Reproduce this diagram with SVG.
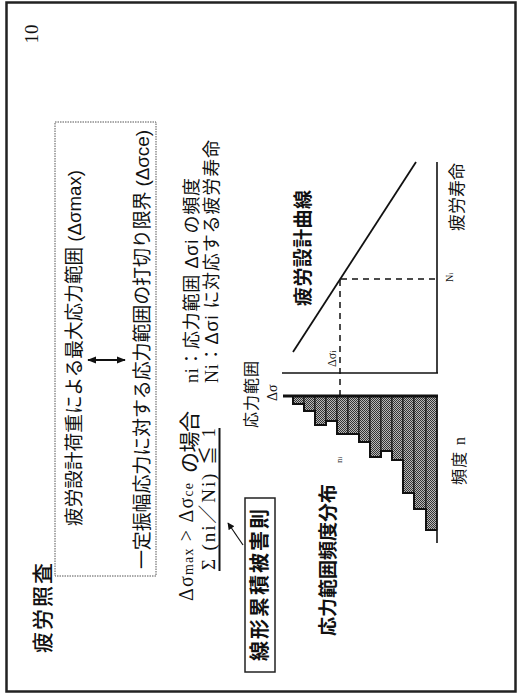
<svg xmlns="http://www.w3.org/2000/svg" width="518" height="695" viewBox="0 0 518 695">
<style>
.sans{font-family:"Liberation Sans","Noto Sans CJK JP",sans-serif;fill:#111}
.serif{font-family:"Liberation Serif","Noto Sans CJK JP",serif;fill:#111}
.bold{font-weight:bold}
.ln{stroke:#111;fill:none}
.dash{stroke:#111;stroke-width:1.5;stroke-dasharray:6 5;fill:none}
.bar{fill:url(#dots);stroke:#111;stroke-width:1}
</style>
<defs>
<pattern id="dots" patternUnits="userSpaceOnUse" width="2" height="2">
<rect width="2" height="2" fill="#b8b8b8"/>
<rect width="1" height="1" fill="#333"/>
<rect x="1" y="1" width="1" height="1" fill="#333"/>
</pattern>
<marker id="ah" viewBox="0 0 10 10" refX="9" refY="5" markerWidth="7" markerHeight="7" orient="auto-start-reverse" markerUnits="userSpaceOnUse">
<path d="M0,0 L10,5 L0,10 z" fill="#111"/>
</marker>
<marker id="ah2" viewBox="0 0 10 10" refX="9" refY="5" markerWidth="9" markerHeight="9" orient="auto-start-reverse" markerUnits="userSpaceOnUse">
<path d="M0,1 L10,5 L0,9 z" fill="#111"/>
</marker>
</defs>
<rect width="518" height="695" fill="#fff"/>
<g id="frame">
<rect x="6.5" y="2.5" width="509" height="689" fill="none" stroke="#222" stroke-width="2.5"/>
</g>
<g id="page-number"><text class="serif" font-size="19" text-anchor="middle" transform="rotate(-90 37.5 34)" x="37.5" y="34">10</text></g>
<g id="title"><text class="sans" font-size="21" font-weight="500" transform="rotate(-90 50 653)" x="50" y="653" textLength="90" lengthAdjust="spacing">疲労照査</text></g>
<g id="definition-box">
<rect x="55" y="122" width="101" height="454" fill="none" stroke="#555" stroke-width="1" stroke-dasharray="1.5 1"/>
<text class="sans" font-size="19" transform="rotate(-90 81 526)" x="81" y="526" textLength="356" lengthAdjust="spacingAndGlyphs">疲労設計荷重による最大応力範囲 (Δσmax)</text>
<text class="sans" font-size="19" transform="rotate(-90 149 569)" x="149" y="569" textLength="439" lengthAdjust="spacing">一定振幅応力に対する応力範囲の打切り限界 (Δσce)</text>
</g>
<g id="condition">
<text class="serif" font-size="20" transform="rotate(-90 193 601)" x="193" y="601" textLength="118" lengthAdjust="spacing">Δσ<tspan font-size="14">max</tspan> &gt; Δσ<tspan font-size="14">ce</tspan></text>
<text class="sans" font-size="21" transform="rotate(-90 197 473)" x="197" y="473" textLength="62" lengthAdjust="spacing">の場合</text>
<text class="serif" font-size="19" transform="rotate(-90 215 570)" x="215" y="570" textLength="142" lengthAdjust="spacing">Σ (ni／Ni) ≦ 1</text>
</g>
<g id="legend">
<text class="sans" font-size="18" transform="rotate(-90 198 383)" x="198" y="383" textLength="205" lengthAdjust="spacing"><tspan class="serif">ni</tspan>：応力範囲 Δσi の頻度</text>
<text class="sans" font-size="18" transform="rotate(-90 217.5 383)" x="217.5" y="383" textLength="243" lengthAdjust="spacing"><tspan class="serif">Ni</tspan>：Δσi に対応する疲労寿命</text>
</g>
<g id="miner-rule">
<rect x="245" y="498" width="30" height="174" fill="#fff" stroke="#222" stroke-width="1.5"/>
<text class="sans bold" font-size="20" text-anchor="middle" transform="rotate(-90 267 585)" x="267" y="585" textLength="152" lengthAdjust="spacing">線形累積被害則</text>
</g>
<g id="connectors">
<line x1="88" y1="360" x2="125" y2="360" class="ln" stroke-width="2" marker-start="url(#ah2)" marker-end="url(#ah2)"/>
<line x1="243" y1="545" x2="228" y2="523" class="ln" stroke-width="1.2" marker-end="url(#ah)"/>
<line x1="219.5" y1="428" x2="219.5" y2="571" class="ln" stroke-width="2"/>
</g>
<g id="sn-curve">
<line x1="282" y1="373" x2="438" y2="373" class="ln" stroke-width="1.6"/>
<line x1="437" y1="162" x2="437" y2="373" class="ln" stroke-width="1.6"/>
<line x1="293" y1="352" x2="416" y2="162" class="ln" stroke-width="1.8"/>
<line x1="340" y1="280" x2="340" y2="396" class="dash"/>
<line x1="341" y1="279" x2="437" y2="279" class="dash"/>
<text class="sans bold" font-size="19" transform="rotate(-90 309.5 306)" x="309.5" y="306" textLength="116" lengthAdjust="spacing">疲労設計曲線</text>
<text class="sans" font-size="16" transform="rotate(-90 256.5 428)" x="256.5" y="428" textLength="67" lengthAdjust="spacing">応力範囲</text>
<text class="serif" font-size="14" transform="rotate(-90 277 401)" x="277" y="401">Δσ</text>
<text class="serif" font-size="12" transform="rotate(-90 336 367)" x="336" y="367">Δσ<tspan font-size="8">i</tspan></text>
<text class="serif" font-size="10" transform="rotate(-90 453 282)" x="453" y="282">N<tspan font-size="7">i</tspan></text>
<text class="sans" font-size="17" transform="rotate(-90 463 231)" x="463" y="231" textLength="68" lengthAdjust="spacing">疲労寿命</text>
</g>
<g id="histogram">
<rect class="bar" x="293" y="396" width="11" height="8"/>
<rect class="bar" x="304" y="396" width="11" height="15"/>
<rect class="bar" x="315" y="396" width="11" height="29"/>
<rect class="bar" x="326" y="396" width="11" height="25"/>
<rect class="bar" x="337" y="396" width="11" height="38"/>
<rect class="bar" x="348" y="396" width="11" height="38"/>
<rect class="bar" x="359" y="396" width="11" height="46"/>
<rect class="bar" x="370" y="396" width="11" height="61"/>
<rect class="bar" x="381" y="396" width="11" height="55"/>
<rect class="bar" x="392" y="396" width="11" height="64"/>
<rect class="bar" x="403" y="396" width="11" height="97"/>
<rect class="bar" x="414" y="396" width="12" height="113"/>
<rect class="bar" x="426" y="396" width="11" height="134"/>
<path class="ln" stroke-width="2" d="M293,396 V404 H304 V411 H315 V425 H326 V421 H337 V434 H359 V442 H370 V457 H381 V451 H392 V460 H403 V493 H414 V509 H426 V530 H437"/>
<line x1="283" y1="396" x2="438" y2="396" class="ln" stroke-width="3"/>
<line x1="437" y1="396" x2="437" y2="543" class="ln" stroke-width="1.6"/>
<text class="serif" font-size="9" transform="rotate(-90 342 463)" x="342" y="463">n<tspan font-size="6">i</tspan></text>
<text class="sans" font-size="16" transform="rotate(-90 464.5 485)" x="464.5" y="485" textLength="48" lengthAdjust="spacing">頻度 <tspan class="serif">n</tspan></text>
<text class="sans bold" font-size="19" transform="rotate(-90 334.5 636)" x="334.5" y="636" textLength="152" lengthAdjust="spacing">応力範囲頻度分布</text>
</g>
</svg>
